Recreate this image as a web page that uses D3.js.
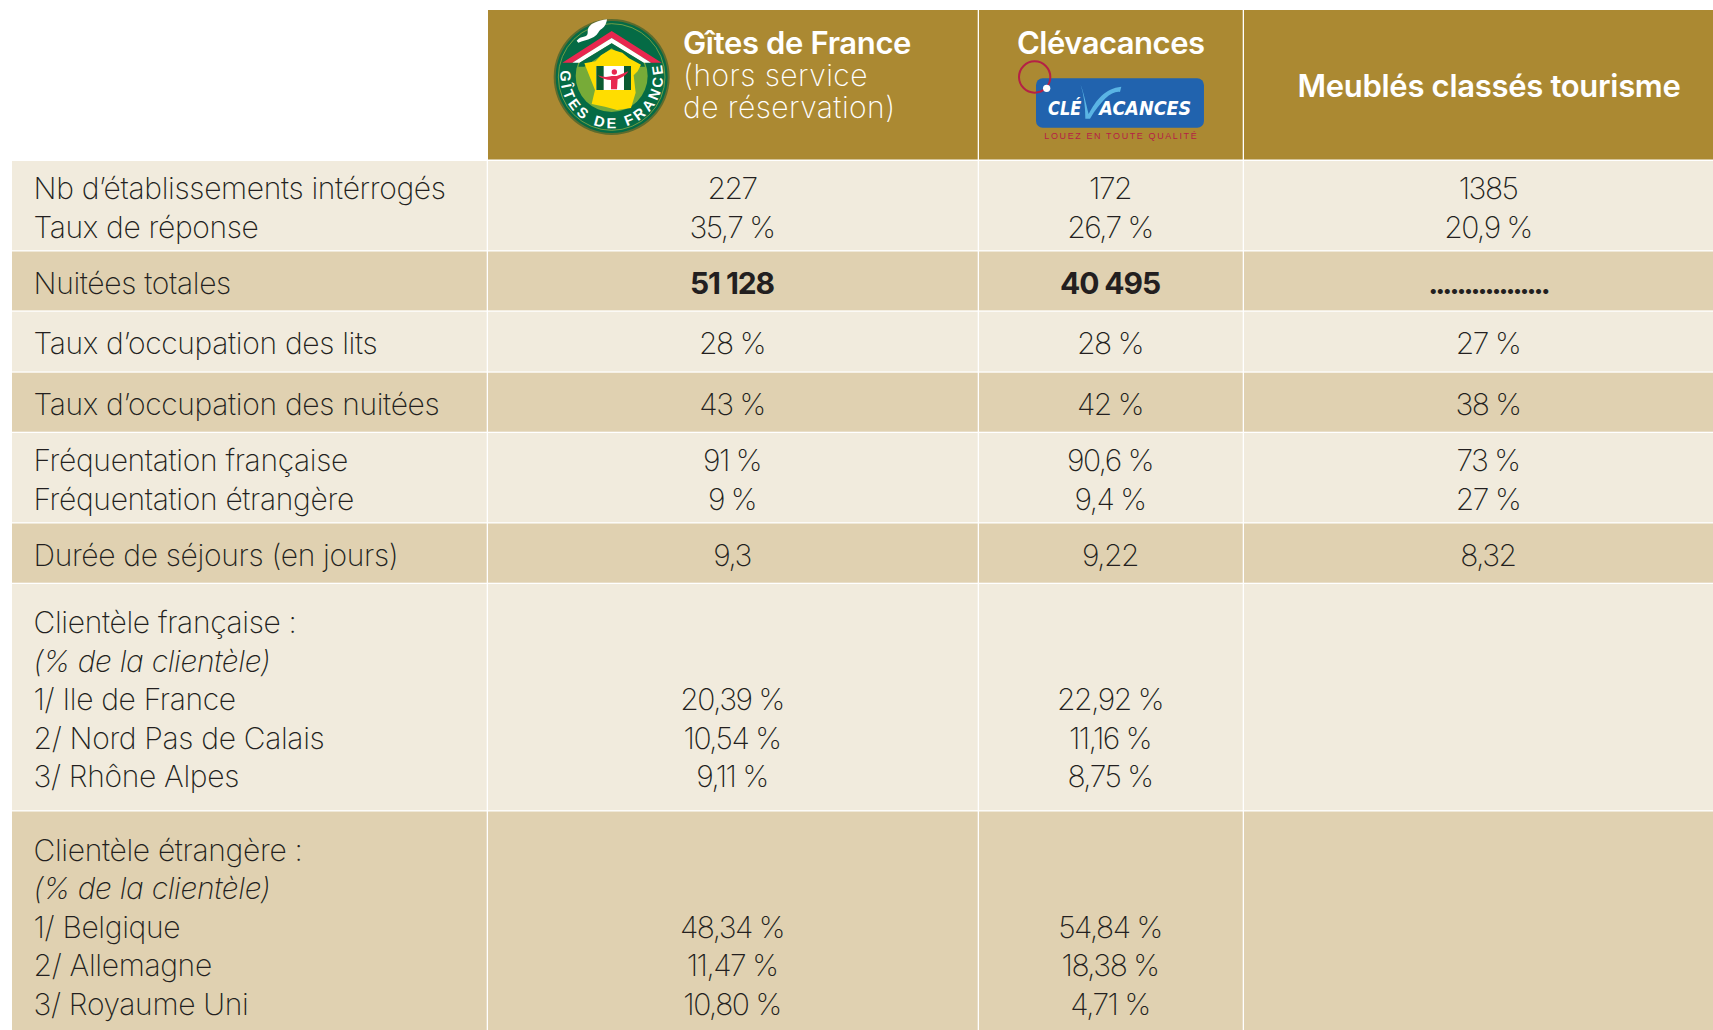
<!DOCTYPE html>
<html>
<head>
<meta charset="utf-8">
<script src="https://cdn.jsdelivr.net/npm/d3@7"></script>
<style>
html, body { margin: 0; padding: 0; background: #fff; }
svg { display: block; }
</style>
</head>
<body>
<div id="table"></div>
<script>
// Table content
var columns = ['Gîtes de France', 'Clévacances', 'Meublés classés tourisme'];
var labels = [
	['Nb d’établissements intérrogés', 'Taux de réponse'],
	['Nuitées totales'],
	['Taux d’occupation des lits'],
	['Taux d’occupation des nuitées'],
	['Fréquentation française', 'Fréquentation étrangère'],
	['Durée de séjours (en jours)'],
	['Clientèle française :', '(% de la clientèle)', '1/ Ile de France', '2/ Nord Pas de Calais', '3/ Rhône Alpes'],
	['Clientèle étrangère :', '(% de la clientèle)', '1/ Belgique', '2/ Allemagne', '3/ Royaume Uni']
];
var gites = [['227', '35,7 %'], ['51 128'], ['28 %'], ['43 %'], ['91 %', '9 %'], ['9,3'],
	['', '', '20,39 %', '10,54 %', '9,11 %'], ['', '', '48,34 %', '11,47 %', '10,80 %']];
var clevacances = [['172', '26,7 %'], ['40 495'], ['28 %'], ['42 %'], ['90,6 %', '9,4 %'], ['9,22'],
	['', '', '22,92 %', '11,16 %', '8,75 %'], ['', '', '54,84 %', '18,38 %', '4,71 %']];
var meubles = [['1385', '20,9 %'], ['.................'], ['27 %'], ['38 %'], ['73 %', '27 %'], ['8,32'],
	['', '', '', '', ''], ['', '', '', '', '']];

var svg = d3.select('#table')
	.append('svg')
	.attr('width', 1713)
	.attr('height', 1030);

var colEdges = [12, 488, 979, 1244, 1713];
var rowEdges = [161, 251.5, 311.7, 372.7, 433, 523.5, 584, 811.5, 1030];
var colCenters = [732, 1110, 1488];
var lineGap = 38.5;
var font = 'Inter';

// Header band
svg.selectAll('rect.head')
	.data(columns)
	.enter()
	.append('rect')
	.attr('class', 'head')
	.attr('x', function(d, i) { return colEdges[i + 1]; })
	.attr('y', 10)
	.attr('width', function(d, i) { return colEdges[i + 2] - colEdges[i + 1] - (i < 2 ? 1.3 : 0); })
	.attr('height', 149.5)
	.attr('fill', '#ab8932');

function addText(parent, t, x, y, opts) {
	if (!t) return;
	parent.append('text')
		.attr('x', x)
		.attr('y', y)
		.attr('text-anchor', opts.anchor || 'start')
		.attr('font-family', font)
		.attr('font-size', opts.size || 30)
		.attr('font-style', opts.style || 'normal')
		.attr('font-weight', opts.weight || 200)
		.attr('letter-spacing', opts.spacing)
		.attr('fill', opts.fill || '#231f20')
		.text(t);
}

// Rows and cells
labels.forEach(function(lines, r) {
	var fill = r % 2 === 0 ? '#f1ebdd' : '#e0d1b1';
	for (var c = 0; c < 4; c++) {
		svg.append('rect')
			.attr('x', colEdges[c])
			.attr('y', rowEdges[r])
			.attr('width', colEdges[c + 1] - colEdges[c] - (c < 3 ? 1.3 : 0))
			.attr('height', rowEdges[r + 1] - rowEdges[r] - (r < 7 ? 1.3 : 0))
			.attr('fill', fill);
	}
	var top = rowEdges[r] + (lines.length === 1 ? 42.4 : lines.length === 2 ? 38 : 49);
	lines.forEach(function(t, l) {
		var y = top + l * lineGap;
		addText(svg, t, 33.5, y, {style: t.charAt(0) === '(' ? 'italic' : 'normal', spacing: -0.33});
		[gites, clevacances, meubles].forEach(function(col, c) {
			var dots = col[r][l].charAt(0) === '.';
			addText(svg, col[r][l], colCenters[c], y, {
				anchor: 'middle',
				weight: r === 1 ? 700 : 200,
				spacing: dots ? -3 : (r === 1 ? -1.1 : -1.5)
			});
		});
	});
});

// Header text
var white = '#fff';
addText(svg, columns[0], 683, 54, {weight: 600, size: 31, fill: white, spacing: -0.35});
addText(svg, '(hors service', 683, 86, {fill: white, spacing: 0.45});
addText(svg, 'de réservation)', 683, 118, {fill: white, spacing: 0.45});
addText(svg, columns[1], 1017, 54, {weight: 600, size: 31, fill: white, spacing: -0.5});
addText(svg, columns[2], 1489, 97, {weight: 600, size: 31, fill: white, anchor: 'middle', spacing: -0.3});

// Gites de France logo, drawn in a 3x box placed at 545,10
var gl = svg.append('g').attr('transform', 'translate(545,10) scale(0.3333)');
var cx = 200, cy = 201;
gl.append('circle').attr('cx', cx).attr('cy', cy).attr('r', 174).attr('fill', '#5c6b2e');
gl.append('circle').attr('cx', cx).attr('cy', cy).attr('r', 168).attr('fill', '#056b45');
gl.append('circle').attr('cx', cx).attr('cy', cy).attr('r', 160).attr('fill', 'none').attr('stroke', '#a5b545').attr('stroke-width', 2);
gl.append('circle').attr('cx', cx).attr('cy', cy - 3).attr('r', 108).attr('fill', '#77ab38');
// roof
gl.append('path').attr('d', 'M52,158 L200,63 L350,158 L318,158 L200,84 L82,158 Z').attr('fill', '#e8274f');
gl.append('path').attr('d', 'M82,158 L200,84 L318,158 L296,158 L200,100 L104,158 Z').attr('fill', '#fff');
gl.append('path').attr('d', 'M104,158 L200,100 L296,158 L300,170 L100,170 Z').attr('fill', '#056b45');
gl.append('path').attr('d', 'M112,175 L200,115 L288,175 L300,210 L100,210 Z').attr('fill', '#77ab38');
// smoke
gl.append('path').attr('d', 'M95,92 C112,72 130,88 128,62 C130,40 160,32 186,28 C184,44 176,54 168,58 C158,66 160,76 140,84 C126,92 112,92 100,98 Z').attr('fill', '#fff');
// France
gl.append('path').attr('d', 'M198,118 L232,128 L252,145 L288,164 L278,184 L266,196 L272,248 L258,294 L216,300 L180,290 L140,282 L150,240 L118,160 L152,154 L168,136 Z').attr('fill', '#ffdd00');
// window
gl.append('rect').attr('x', 154).attr('y', 168).attr('width', 104).attr('height', 72).attr('fill', '#fff');
gl.append('rect').attr('x', 154).attr('y', 168).attr('width', 22).attr('height', 72).attr('fill', '#0a5a30');
gl.append('rect').attr('x', 237).attr('y', 168).attr('width', 21).attr('height', 72).attr('fill', '#0a5a30');
gl.append('path').attr('d', 'M158,196 C180,204 192,200 200,198 L215,198 C228,194 240,188 250,184 C242,198 228,204 218,208 L216,238 L198,238 L198,210 C184,210 170,206 158,196 Z').attr('fill', '#e8274f');
gl.append('circle').attr('cx', 208).attr('cy', 186).attr('r', 8).attr('fill', '#e8274f');
// ring text
gl.append('path').attr('id', 'ring')
	.attr('d', 'M' + (cx - 152) + ',' + (cy - 25) + ' A154,154 0 1 0 ' + (cx + 152) + ',' + (cy - 25))
	.attr('fill', 'none');
gl.append('text')
	.attr('font-family', 'Liberation Sans')
	.attr('font-weight', 700)
	.attr('font-size', 44)
	.attr('fill', '#fff')
	.append('textPath')
	.attr('href', '#ring')
	.attr('startOffset', '1%')
	.attr('textLength', 540)
	.text('GÎTES DE FRANCE');

// Clevacances logo, drawn in a 3x box placed at 1010,50
var cl = svg.append('g').attr('transform', 'translate(1010,50) scale(0.3333)');
cl.append('rect').attr('x', 78).attr('y', 85).attr('width', 504).attr('height', 148).attr('rx', 20).attr('fill', '#2163ae');
cl.append('circle').attr('cx', 74).attr('cy', 81).attr('r', 47).attr('fill', 'none').attr('stroke', '#b52046').attr('stroke-width', 6);
cl.append('circle').attr('cx', 110).attr('cy', 115).attr('r', 11).attr('fill', '#fff');
cl.append('path').attr('d', 'M212,104 C222,130 230,170 236,192 C258,150 285,115 334,110 L330,126 C305,122 275,150 240,206 L226,206 C226,170 222,135 212,104 Z').attr('fill', '#5ab4e4');
[['CLÉ', 114, 100], ['ACANCES', 268, 276]].forEach(function(d) {
	cl.append('text')
		.attr('x', d[1])
		.attr('y', 196)
		.attr('font-family', 'DejaVu Sans')
		.attr('font-style', 'italic')
		.attr('font-weight', 700)
		.attr('font-size', 60)
		.attr('textLength', d[2])
		.attr('lengthAdjust', 'spacingAndGlyphs')
		.attr('fill', '#fff')
		.text(d[0]);
});
cl.append('text')
	.attr('x', 103)
	.attr('y', 268)
	.attr('font-family', 'Liberation Sans')
	.attr('font-size', 27)
	.attr('textLength', 457)
	.attr('fill', '#b52046')
	.text('LOUEZ EN TOUTE QUALITÉ');
</script>
</body>
</html>
